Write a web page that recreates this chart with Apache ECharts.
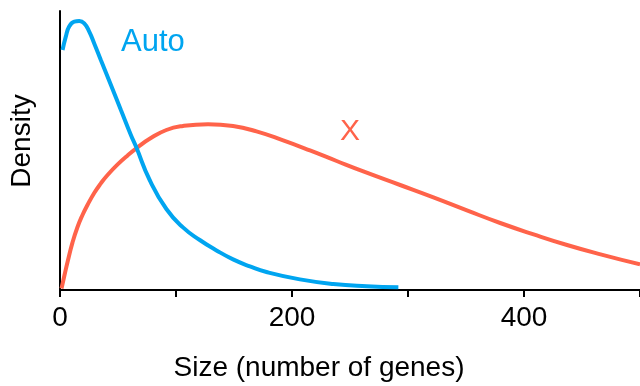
<!DOCTYPE html>
<html><head><meta charset="utf-8">
<script src="https://cdn.jsdelivr.net/npm/echarts@6/dist/echarts.min.js"></script>
<style>html,body{margin:0;padding:0;background:#fff}#c{width:640px;height:386px}</style>
</head><body><div id="c"></div>
<script>
// Density values in arbitrary units (x10^-3)
const autoX = [2.2, 5.0, 7.9, 12.3, 16.6, 20.9, 25.2, 29.5, 35.2, 43.9, 52.5, 61.1, 65.5, 77.3, 91.7, 106.0, 120.5, 134.9, 149.2, 163.7, 178.0, 206.8, 235.6, 264.4, 291.7];
const autoY = [12.0, 12.67, 13.17, 13.42, 13.45, 13.33, 12.92, 12.33, 11.5, 10.25, 9.0, 7.75, 7.17, 5.5, 4.05, 3.13, 2.5, 1.98, 1.53, 1.18, 0.9, 0.53, 0.3, 0.19, 0.14];
const xX = [1.3, 3.9, 6.5, 10.8, 15.1, 19.4, 23.7, 29.5, 35.2, 41.0, 49.7, 58.3, 66.9, 77.3, 91.7, 106.0, 127.6, 149.2, 169.4, 192.4, 215.5, 238.5, 261.5, 293.2, 321.9, 350.8, 379.5, 408.3, 437.1, 466.0, 500];
const xY = [0.075, 0.75, 1.4, 2.38, 3.15, 3.75, 4.25, 4.85, 5.33, 5.75, 6.28, 6.73, 7.13, 7.56, 8.0, 8.2, 8.29, 8.2, 7.93, 7.48, 6.98, 6.45, 5.93, 5.25, 4.63, 3.98, 3.35, 2.78, 2.25, 1.78, 1.28];
const xTicks = [0, 100, 200, 300, 400, 500];
const xLabels = ['0', '', '200', '', '400', ''];
const seriesNames = ['Auto', 'X'];
const xTitle = 'Size (number of genes)';
const yTitle = 'Density';

const FONT = '"Liberation Sans", Arial, sans-serif';
const BLUE = '#00A5F0';
const RED = '#FF634A';

const chart = echarts.init(document.getElementById('c'), null, {renderer: 'canvas'});
chart.setOption({
  animation: false,
  backgroundColor: '#fff',
  grid: {left: 60, right: 0, top: 11, bottom: 96, containLabel: false, outerBoundsMode: 'none'},
  xAxis: {
    type: 'value', min: 0, max: 500, interval: 100,
    axisLine: {lineStyle: {color: '#000', width: 2}},
    axisTick: {length: 7, lineStyle: {color: '#000', width: 2}},
    axisLabel: {fontFamily: FONT, fontSize: 28, color: '#000', margin: 14, showMaxLabel: true,
      formatter: v => xLabels[xTicks.indexOf(v)] || ''},
    splitLine: {show: false}
  },
  yAxis: {
    type: 'value', min: 0, max: 13.95,
    axisLine: {show: true, lineStyle: {color: '#000', width: 2}},
    axisTick: {show: false}, axisLabel: {show: false}, splitLine: {show: false}
  },
  series: [
    {name: seriesNames[0], type: 'line', smooth: 0.5, showSymbol: false, z: 3,
     lineStyle: {color: BLUE, width: 4}, data: autoX.map((x, i) => [x, autoY[i]])},
    {name: seriesNames[1], type: 'line', smooth: 0.5, showSymbol: false, z: 2,
     lineStyle: {color: RED, width: 4}, data: xX.map((x, i) => [x, xY[i]])}
  ],
  graphic: [
    {type: 'text', left: 121, top: 27, style: {text: seriesNames[0], fill: BLUE, font: '31px ' + FONT}},
    {type: 'text', left: 340, top: 117, style: {text: seriesNames[1], fill: RED, font: '30px ' + FONT}},
    {type: 'text', x: 319, y: 368, style: {text: xTitle, fill: '#000', font: '28px ' + FONT, align: 'center', verticalAlign: 'middle'}},
    {type: 'text', x: 22, y: 141, rotation: Math.PI / 2, style: {text: yTitle, fill: '#000', font: '28px ' + FONT, align: 'center', verticalAlign: 'middle'}}
  ]
});
</script></body></html>
